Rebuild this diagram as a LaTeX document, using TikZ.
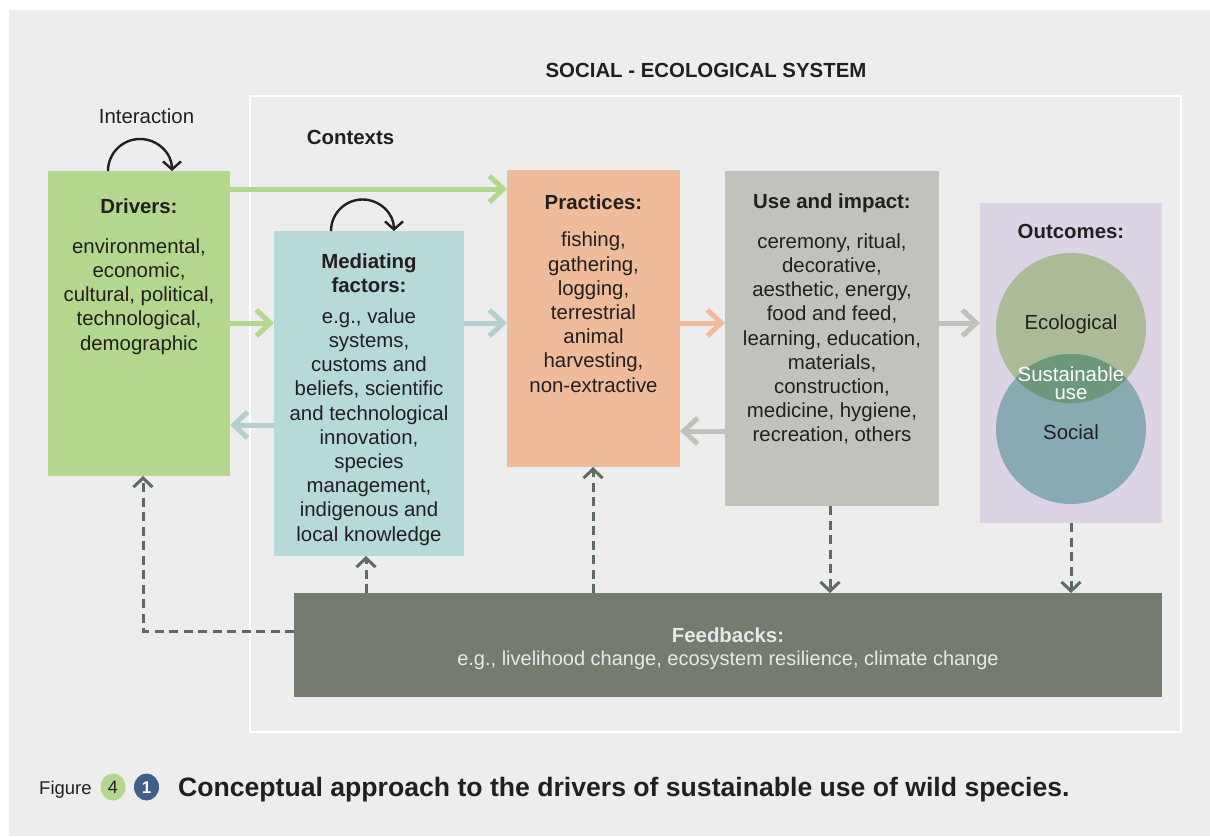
\documentclass[tikz,border=0pt]{standalone}
\usepackage{fontspec}
\setmainfont{Liberation Sans}
\usetikzlibrary{arrows.meta,calc}
\definecolor{bgc}{HTML}{EDEDED}
\definecolor{txt}{HTML}{231F20}
\definecolor{drvc}{HTML}{B3D78C}
\definecolor{medc}{HTML}{B7D9D8}
\definecolor{medar}{HTML}{B5CFCF}
\definecolor{prac}{HTML}{EFBB9A}
\definecolor{usec}{HTML}{C2C2BD}
\definecolor{outc}{HTML}{DCD4E4}
\definecolor{ecoc}{HTML}{ABBB98}
\definecolor{socc}{HTML}{88AAB3}
\definecolor{susc}{HTML}{6C977A}
\definecolor{fbc}{HTML}{767B70}
\definecolor{fbt}{HTML}{E8E8E8}
\definecolor{dshc}{HTML}{5E6B5F}
\definecolor{numb}{HTML}{3F5F8A}
\newcommand\fsz{\fontsize{20.4}{24.2}\selectfont}
\begin{document}
\begin{tikzpicture}[x=1pt,y=-1pt,
  box/.style={draw=none,inner sep=0pt,outer sep=0pt},
  ttl/.style={anchor=base,font=\bfseries\fsz,text=txt,inner sep=0pt},
  bodytxt/.style={anchor=north,align=center,font=\fsz,text=txt,inner sep=0pt},
  fat/.style={line width=5pt,-{Straight Barb[length=14pt,width=26pt]}},
  dsh/.style={draw=dshc,line width=3pt,dash pattern=on 9pt off 5.5pt,-{Straight Barb[length=9pt,width=19pt]}},
  loopar/.style={draw=txt,line width=2.4pt,-{Straight Barb[length=8pt,width=18pt]}}]
\useasboundingbox (0,0) rectangle (1210,836);
\fill[white] (0,0) rectangle (1210,836);
\fill[bgc] (9,10) rectangle (1210,836);
\draw[white,line width=2.7pt] (250,96) rectangle (1181,732);

% titles
\node[ttl] (ses) at (706,77) {SOCIAL - ECOLOGICAL SYSTEM};
\node[anchor=base,font=\fsz,text=txt,inner sep=0pt] (inter) at (146.5,123) {Interaction};
\node[ttl] (ctx) at (350.5,144) {Contexts};

% boxes
\node[box,fill=drvc,minimum width=182pt,minimum height=305pt] (drivers) at (139,323.5) {};
\node[box,fill=medc,minimum width=190pt,minimum height=325pt] (mediating) at (369,393.5) {};
\node[box,fill=prac,minimum width=173pt,minimum height=297pt] (practices) at (593.5,318.5) {};
\node[box,fill=usec,minimum width=214pt,minimum height=335pt] (use) at (832,338.5) {};
\node[box,fill=outc,minimum width=182pt,minimum height=320pt] (outcomes) at (1071,363) {};
\node[box,fill=fbc,minimum width=868pt,minimum height=104pt] (feedback) at (728,645) {};

% box texts
\node[ttl] (drvt) at (139,213) {Drivers:};
\node[bodytxt] (drvb) at (139,238.4) {environmental,\\economic,\\cultural, political,\\technological,\\demographic};
\node[anchor=north,align=center,font=\bfseries\fsz,text=txt,inner sep=0pt] (medt) at (369,253.4) {Mediating\\factors:};
\node[bodytxt] (medb) at (369,308.4) {e.g., value\\systems,\\customs and\\beliefs, scientific\\and technological\\innovation,\\species\\management,\\indigenous and\\local knowledge};
\node[ttl] (prat) at (593.5,209) {Practices:};
\node[bodytxt] (prab) at (593.5,232) {fishing,\\gathering,\\logging,\\terrestrial\\animal\\harvesting,\\non-extractive};
\node[ttl] (uset) at (832,208) {Use and impact:};
\node[bodytxt] (useb) at (832,233.4) {ceremony, ritual,\\decorative,\\aesthetic, energy,\\food and feed,\\learning, education,\\materials,\\construction,\\medicine, hygiene,\\recreation, others};
\node[ttl] (outt) at (1071,238) {Outcomes:};

% circles
\fill[ecoc] (1071,328) circle[radius=75];
\fill[socc] (1071,429) circle[radius=75];
\begin{scope}
\clip (1071,328) circle[radius=75];
\fill[susc] (1071,429) circle[radius=75];
\end{scope}
\node[anchor=base,font=\fsz,text=txt,inner sep=0pt] (eco) at (1071,329) {Ecological};
\node[anchor=base,font=\fsz,text=txt,inner sep=0pt] (soc) at (1071,439) {Social};
\node[anchor=north,align=center,font=\fontsize{20.4}{18}\selectfont,text=white,inner sep=0pt] (sus) at (1071,366.5) {Sustainable\\use};

% feedback text
\node[anchor=base,font=\bfseries\fsz,text=fbt,inner sep=0pt] (fbt1) at (728,642) {Feedbacks:};
\node[anchor=base,font=\fontsize{20}{24}\selectfont,text=fbt,inner sep=0pt] (fbt2) at (728,665) {e.g., livelihood change, ecosystem resilience, climate change};

% helper coordinates
\coordinate (y189) at (0,189);
\coordinate (y323) at (0,323);
\coordinate (y425) at (0,425);
\coordinate (y431) at (0,431);
\coordinate (y631) at (0,631);
\coordinate (x143) at (143,0);
\coordinate (x366) at (366,0);
\coordinate (x593) at (593,0);
\coordinate (x830) at (830,0);
\coordinate (x1071) at (1071,0);

% thick arrows
\draw[fat,draw=drvc] (drivers.east |- y189) -- (practices.west |- y189);
\draw[fat,draw=drvc] (drivers.east |- y323) -- (mediating.west |- y323);
\draw[fat,draw=medar] (mediating.east |- y323) -- (practices.west |- y323);
\draw[fat,draw=medar] (mediating.west |- y425) -- (drivers.east |- y425);
\draw[fat,draw=prac] (practices.east |- y323) -- (use.west |- y323);
\draw[fat,draw=usec] (use.west |- y431) -- (practices.east |- y431);
\draw[fat,draw=usec] (use.east |- y323) -- (outcomes.west |- y323);

% dashed feedback arrows
\draw[dsh] (feedback.west |- y631) -| (drivers.south -| x143);
\draw[dsh] (feedback.north -| x366) -- (mediating.south -| x366);
\draw[dsh] (feedback.north -| x593) -- (practices.south -| x593);
\draw[dsh] (use.south -| x830) -- (feedback.north -| x830);
\draw[dsh] (outcomes.south -| x1071) -- (feedback.north -| x1071);

% interaction loops
\draw[loopar] ($(drivers.north)+(-31,0)$) arc[start angle=180,end angle=360,radius=32];
\draw[loopar] ($(mediating.north)+(-38,0)$) arc[start angle=180,end angle=360,radius=31.5];

% caption
\node[anchor=base west,font=\fontsize{18.5}{22}\selectfont,text=txt,inner sep=0pt] (fig) at (39,794) {Figure};
\fill[drvc] (113,787) ellipse[x radius=12.5,y radius=13.5];
\node[font=\fontsize{18}{20}\selectfont,text=txt,inner sep=0pt] (n4) at (113,787.5) {4};
\fill[numb] (146.5,787) ellipse[x radius=12.5,y radius=13.5];
\node[font=\bfseries\fontsize{17}{20}\selectfont,text=white,inner sep=0pt] (n1) at (146.5,787.5) {1};
\node[anchor=base west,font=\bfseries\fontsize{26.6}{30}\selectfont,text=txt,inner sep=0pt] (cap) at (178,796) {Conceptual approach to the drivers of sustainable use of wild species.};
\end{tikzpicture}
\end{document}
